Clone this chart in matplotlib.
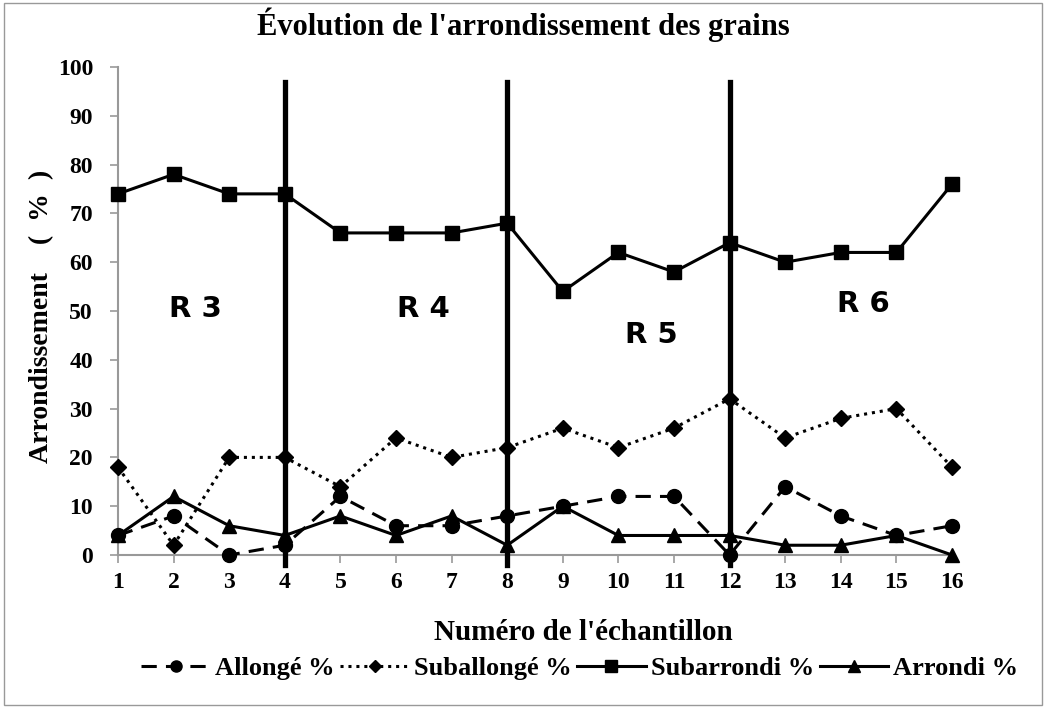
import numpy as np
import matplotlib.pyplot as plt
from matplotlib.patches import Rectangle

# Data
samples = np.arange(1, 17)
allonge = [4, 8, 0, 2, 12, 6, 6, 8, 10, 12, 12, 0, 14, 8, 4, 6]
suballonge = [18, 2, 20, 20, 14, 24, 20, 22, 26, 22, 26, 32, 24, 28, 30, 18]
subarrondi = [74, 78, 74, 74, 66, 66, 66, 68, 54, 62, 58, 64, 60, 62, 62, 76]
arrondi = [4, 12, 6, 4, 8, 4, 8, 2, 10, 4, 4, 4, 2, 2, 4, 0]

boundaries = [4, 8, 12]
zone_labels = ["R 3", "R 4", "R 5", "R 6"]
zone_x = [2.4, 6.5, 10.6, 14.4]
zone_y = [50.5, 50.5, 45, 51.5]

plt.rcParams['font.family'] = 'Liberation Serif'
plt.rcParams['font.weight'] = 'bold'

fig = plt.figure(figsize=(10.46, 7.08), dpi=100)
ax = fig.add_axes([118 / 1046, 1 - 555 / 708, (952 - 118) / 1046, (555 - 67) / 708])

ax.plot(samples, allonge, color='black', lw=2.2, ls=(0, (5, 3)), marker='o', ms=10,
        clip_on=False, zorder=6, label='Allongé %')
ax.plot(samples, suballonge, color='black', lw=2.2, ls=(0, (1, 1.6)), marker='D', ms=8,
        clip_on=False, zorder=6, label='Suballongé %')
ax.plot(samples, subarrondi, color='black', lw=2.2, ls='-', marker='s', ms=10,
        clip_on=False, zorder=6, label='Subarrondi %')
ax.plot(samples, arrondi, color='black', lw=2.2, ls='-', marker='^', ms=10,
        clip_on=False, zorder=6, label='Arrondi %')

for b in boundaries:
    ax.plot([b, b], [-2, 97], color='black', lw=3.8, clip_on=False, zorder=5)

for lab, x, y in zip(zone_labels, zone_x, zone_y):
    ax.text(x, y, lab, fontsize=21, fontweight='bold', family='DejaVu Sans',
            ha='center', va='center')

ax.set_xlim(1, 16)
ax.set_ylim(0, 100)
ax.set_xticks(samples)
ax.set_yticks(np.arange(0, 101, 10))
ax.tick_params(axis='both', labelsize=17, color='#999999', length=6, width=1.2)
ax.tick_params(axis='x', pad=6)
ax.tick_params(axis='y', pad=12)
for s in ['top', 'right']:
    ax.spines[s].set_visible(False)
for s in ['left', 'bottom']:
    ax.spines[s].set_color('#999999')
    ax.spines[s].set_linewidth(1.5)

ax.set_xlabel("Numéro de l'échantillon", fontsize=21, fontweight='bold')
ax.xaxis.set_label_coords((583 - 118) / (952 - 118), -(632 - 555) / (555 - 67))
ax.xaxis.label.set_va('center')
ax.set_ylabel("Arrondissement    (  %  )", fontsize=20, fontweight='bold')
ax.yaxis.set_label_coords(-(118 - 42) / (952 - 118), (555 - 316) / (555 - 67))
ax.yaxis.label.set_va('center')
fig.suptitle("Évolution de l'arrondissement des grains", fontsize=22, fontweight='bold', y=0.99)

fig.legend(loc='center', bbox_to_anchor=(580 / 1046, 1 - 668 / 708), ncol=4, frameon=False,
           fontsize=19, handlelength=2.6, handletextpad=0.2, columnspacing=0.2,
           markerscale=0.8)

fig.patches.append(Rectangle((0.004, 0.004), 0.992, 0.992, transform=fig.transFigure,
                             fill=False, edgecolor='#999999', lw=1))

fig.savefig('out.png', dpi=100)
